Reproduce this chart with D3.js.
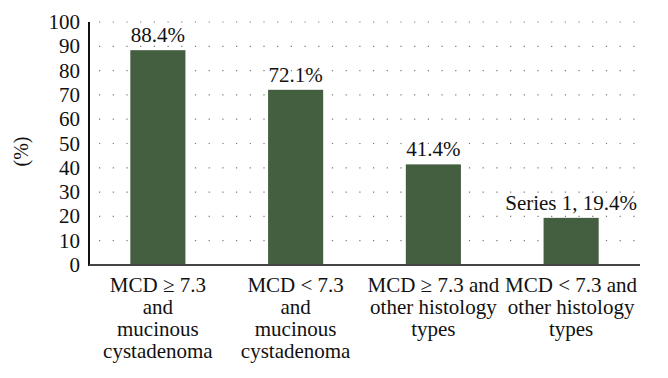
<!DOCTYPE html>
<html>
<head>
<meta charset="utf-8">
<script src="https://cdn.jsdelivr.net/npm/d3@7"></script>
</head>
<body style="margin:0">
<script>
var width = 668;
var height = 378;
var fontName = "Liberation Serif";

// data
var categories = [
  ["MCD \u2265 7.3", "and", "mucinous", "cystadenoma"],
  ["MCD < 7.3", "and", "mucinous", "cystadenoma"],
  ["MCD \u2265 7.3 and", "other histology", "types"],
  ["MCD < 7.3 and", "other histology", "types"]
];
var values = [88.4, 72.1, 41.4, 19.4];
var valueLabels = ["88.4%", "72.1%", "41.4%", "Series 1, 19.4%"];
var yTicks = [0, 10, 20, 30, 40, 50, 60, 70, 80, 90, 100];

var margin = {left: 89, right: 28, top: 22, bottom: 113};

var svg = d3.select("body")
.append("svg")
.attr("width", width)
.attr("height", height);

var x = d3.scaleBand()
.domain(d3.range(values.length))
.range([margin.left, width - margin.right])
.paddingInner(0.6)
.paddingOuter(0.3);

var y = d3.scaleLinear()
.domain([0, 100])
.range([height - margin.bottom, margin.top]);

// y tick labels (from the scale)
svg.selectAll(".ytick")
.data(yTicks)
.enter()
.append("text")
.attr("class", "ytick")
.attr("x", margin.left - 9)
.attr("y", function(d){ return y(d) + 7; })
.attr("text-anchor", "end")
.attr("font-family", fontName)
.attr("font-size", 21)
.attr("fill", "#111")
.text(function(d){ return d; });

// value labels
svg.selectAll(".val")
.data(values)
.enter()
.append("text")
.attr("class", "val")
.attr("x", function(d, i){ return x(i) + x.bandwidth() / 2; })
.attr("y", function(d){ return y(d) - 8; })
.attr("text-anchor", "middle")
.attr("font-family", fontName)
.attr("font-size", 21)
.attr("fill", "#111")
.text(function(d, i){ return valueLabels[i]; });

// category labels, one text per line
categories.forEach(function(lines, i){
  svg.selectAll(".cat" + i)
  .data(lines)
  .enter()
  .append("text")
  .attr("class", "cat" + i)
  .attr("text-anchor", "middle")
  .attr("font-family", fontName)
  .attr("font-size", 21)
  .attr("fill", "#111")
  .attr("x", x(i) + x.bandwidth() / 2)
  .attr("y", function(d, j){ return y(0) + 27 + j * 22; })
  .text(function(d){ return d; });
});

// y label
svg.append("text")
.attr("transform", "translate(28," + (y(50) + 8) + ") rotate(-90)")
.attr("text-anchor", "middle")
.attr("font-family", fontName)
.attr("font-size", 20)
.attr("fill", "#111")
.text("(%)");

// dotted gridlines
svg.append("g")
.selectAll("line")
.data(yTicks.filter(function(d){ return d > 0; }))
.enter()
.append("line")
.attr("x1", margin.left + 10)
.attr("x2", width - margin.right)
.attr("y1", function(d){ return y(d); })
.attr("y2", function(d){ return y(d); })
.attr("stroke", "#777")
.attr("stroke-width", 1.2)
.attr("stroke-dasharray", "1.2,12.5");

// bars
svg.selectAll("rect")
.data(values)
.enter()
.append("rect")
.attr("x", function(d, i){ return x(i); })
.attr("y", function(d){ return y(d); })
.attr("width", x.bandwidth())
.attr("height", function(d){ return y(0) - y(d); })
.attr("fill", "#445e40");

// axis lines
svg.append("line")
.attr("x1", margin.left).attr("x2", margin.left)
.attr("y1", y(100)).attr("y2", y(0) + 1)
.attr("stroke", "#111").attr("stroke-width", 2);
svg.append("line")
.attr("x1", margin.left).attr("x2", x.range()[1])
.attr("y1", y(0)).attr("y2", y(0))
.attr("stroke", "#444").attr("stroke-width", 2);
</script>
</body>
</html>
